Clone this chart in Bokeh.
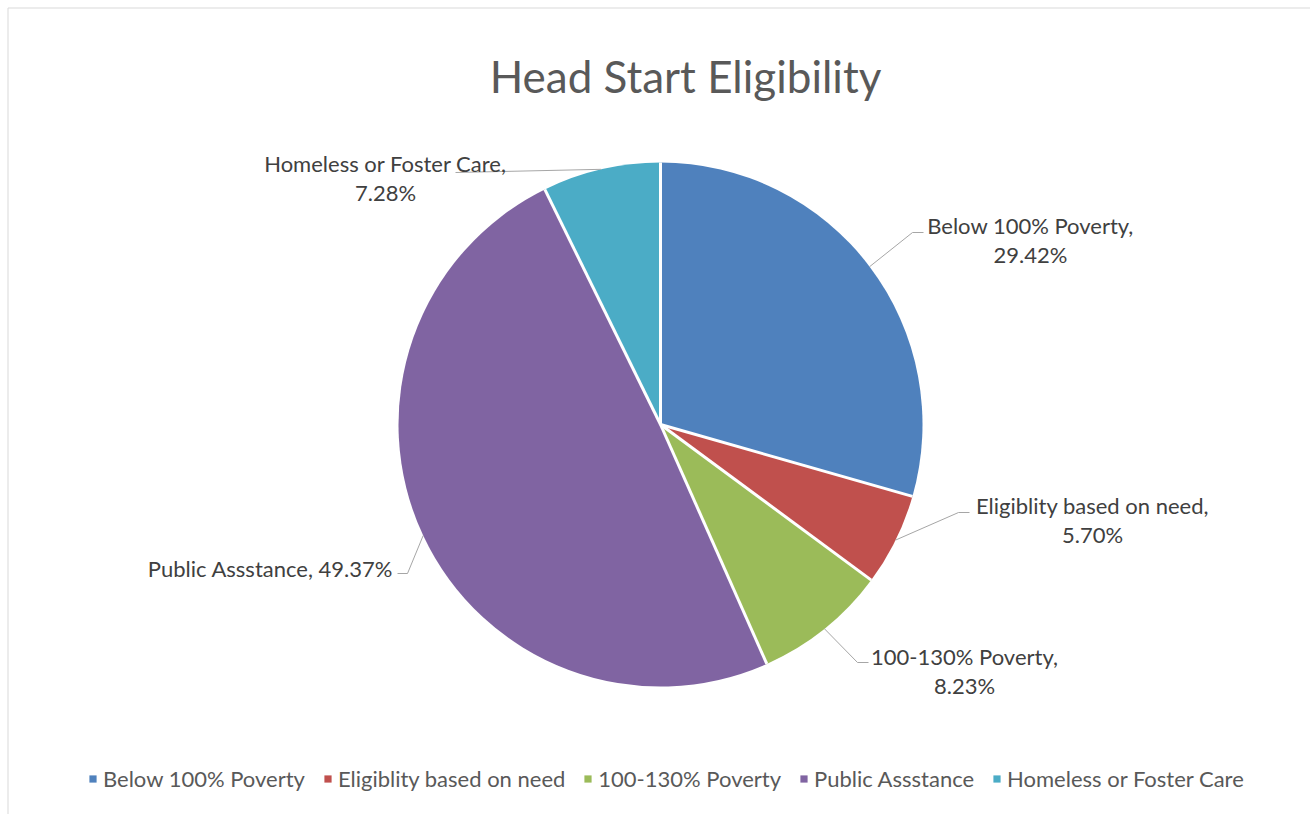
import numpy as np
from bokeh.plotting import figure
from bokeh.models import Range1d, Legend, LegendItem, ColumnDataSource
from bokeh.core.properties import value
from bokeh.embed import file_html
from bokeh.resources import INLINE

# ---------------- data ----------------
categories = ["Below 100% Poverty", "Eligiblity based on need", "100-130% Poverty",
              "Public Assstance", "Homeless or Foster Care"]
values = [29.42, 5.70, 8.23, 49.37, 7.28]
colors = ["#4F81BD", "#C0504D", "#9BBB59", "#8064A2", "#4BACC6"]
title_text = "Head Start Eligibility"

# ---------------- layout (page pixel positions) ----------------
W, H = 1310, 814
def X(px): return px
def Y(py): return H - py

CX, CY, R = X(660), Y(424), 262
FONT = "Lato"
label_lines = [
    [(1030, 225), (1030, 254)],
    [(1092, 505), (1092, 534)],
    [(964, 656), (964, 685)],
    [(270, 568)],
    [(385, 163), (385, 192)],
]
leader_pts = [
    [(912, 232), (923, 232)],
    [(958, 512), (969, 512)],
    [(857, 662), (868, 662)],
    [(407, 573), (397, 573)],
    [(455, 172)],
]

# ---------------- geometry from data ----------------
vals = np.array(values, dtype=float)
frac = vals / vals.sum()
cum = np.concatenate([[0], np.cumsum(frac)])
start = np.pi / 2 - cum[:-1] * 2 * np.pi
end = np.pi / 2 - cum[1:] * 2 * np.pi
mid = (start + end) / 2

p = figure(width=W, height=H, output_backend="svg", toolbar_location=None,
           x_range=Range1d(0, W), y_range=Range1d(0, H),
           min_border=0, min_border_left=0, min_border_right=0,
           min_border_top=0, min_border_bottom=0)
p.axis.visible = False
p.grid.visible = False
p.outline_line_color = None
p.background_fill_color = "white"
p.border_fill_color = "white"

# chart-area border (left and top visible within window)
p.line([X(7.5), X(7.5), X(W + 20)], [Y(H + 20), Y(7.5), Y(7.5)],
       line_color="#D9D9D9", line_width=1)

src = ColumnDataSource(dict(start=start, end=end, color=colors, cat=categories))
wr = p.wedge(x=CX, y=CY, radius=R, start_angle="start", end_angle="end",
             direction="clock", fill_color="color", line_color=None, source=src)

# white separators between slices
bx = CX + R * np.cos(start)
by = CY + R * np.sin(start)
p.segment(x0=[CX] * len(bx), y0=[CY] * len(by), x1=bx, y1=by,
          line_color="white", line_width=3)

# leader lines
for i in range(len(values)):
    sx = CX + R * np.cos(mid[i])
    sy = CY + R * np.sin(mid[i])
    xs = [sx] + [X(a) for a, b in leader_pts[i]]
    ys = [sy] + [Y(b) for a, b in leader_pts[i]]
    p.line(xs, ys, line_color="#A6A6A6", line_width=1)

# labels
for i, cat in enumerate(categories):
    pct = f"{values[i]:.2f}%"
    lines = label_lines[i]
    if len(lines) == 2:
        texts = [f"{cat},", pct]
    else:
        texts = [f"{cat}, {pct}"]
    for (lx, ly), t in zip(lines, texts):
        p.text(x=[X(lx)], y=[Y(ly)], text=[t], text_align="center",
               text_baseline="middle", text_color="#404040",
               text_font=value(FONT), text_font_size="22px")

# title
p.text(x=[X(685)], y=[Y(75)], text=[title_text], text_align="center",
       text_baseline="middle", text_color="#595959",
       text_font=value(FONT), text_font_size="44px")

# legend
items = [LegendItem(label=c, renderers=[wr], index=i) for i, c in enumerate(categories)]
legend = Legend(items=items, orientation="horizontal", location=(X(88), Y(781) - 11),
                glyph_width=9, glyph_height=9, label_standoff=6, spacing=18,
                label_text_font=FONT, label_text_font_size="22px",
                label_text_color="#595959", label_height=22,
                padding=0, margin=0, border_line_color=None,
                background_fill_alpha=0)
p.add_layout(legend)

open("out.html", "w").write(file_html(p, INLINE))
